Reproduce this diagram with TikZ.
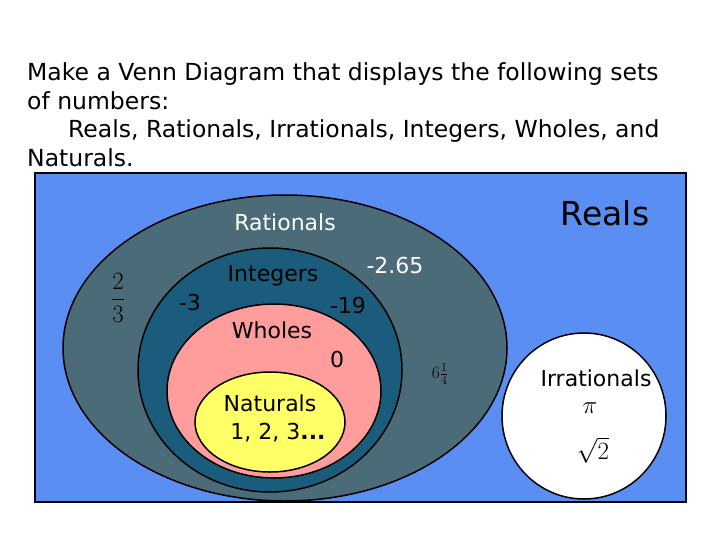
\documentclass[tikz,border=0pt]{standalone}
\usepackage{fontspec}
\setmainfont{DejaVu Sans}
\definecolor{realsblue}{HTML}{5B8EF2}
\definecolor{ratgray}{HTML}{4C6B78}
\definecolor{intblue}{HTML}{1B5C7C}
\definecolor{wholepink}{HTML}{FF9C9C}
\definecolor{natyellow}{HTML}{FFFF66}
\tikzset{
  setshape/.style={draw=black, line width=1.5pt},
  setlabel/.style={font=\fontsize{22}{26}\selectfont},
  title/.style={font=\fontsize{23.5}{28}\selectfont, anchor=west, inner sep=0pt}
}
\begin{document}
\begin{tikzpicture}[x=1pt, y=-1pt]
        \useasboundingbox[fill=white] (0,0) rectangle (720,539);
        % question
        \node[title] (line1) at (27,74) {Make a Venn Diagram that displays the following sets};
        \node[title] (line2) at (27,101) {of numbers:};
        \node[title] (line3) at (68,131) {Reals, Rationals, Irrationals, Integers, Wholes, and};
        \node[title] (line4) at (27,158) {Naturals.};
        % sets
        \draw[setshape, fill=realsblue] (35,173) rectangle (686,502);
        \draw[setshape, fill=ratgray] (285,348) ellipse (222 and 153);
        \draw[setshape, fill=intblue] (270,370) ellipse (132 and 122);
        \draw[setshape, fill=wholepink] (274,391) ellipse (107 and 87);
        \draw[setshape, fill=natyellow] (270,422) ellipse (75 and 50);
        \draw[setshape, fill=white] (584,416) ellipse (82 and 83);
        % labels
        \node[font=\fontsize{33}{38}\selectfont] (reals) at (605,213) {Reals};
        \node[setlabel, text=white] (rationals) at (285,222) {Rationals};
        \node[setlabel, text=white] (negtwo) at (395,265) {-2.65};
        \node[font=\fontsize{30}{34}\selectfont] (twothirds) at (118,298) {$\displaystyle\frac{2}{3}$};
        \node[setlabel] (integers) at (273,276) {Integers};
        \node[setlabel] (negthree) at (190,302) {-3};
        \node[setlabel] (negnineteen) at (348,305) {-19};
        \node[setlabel] (wholes) at (272,330) {Wholes};
        \node[setlabel] (zero) at (337,359) {0};
        \node[font=\fontsize{17}{20}\selectfont] (sixq) at (440,374) {$6\frac{1}{4}$};
        \node[setlabel] (naturals) at (270,403) {Naturals};
        \node[setlabel] (counting) at (278,433) {1, 2, 3\textbf{...}};
        \node[setlabel] (irrationals) at (596,378) {Irrationals};
        \node[font=\fontsize{30}{34}\selectfont] (pi) at (590,408) {$\pi$};
        \node[font=\fontsize{24}{28}\selectfont] (sqrt) at (593,450) {$\sqrt{2}$};
\end{tikzpicture}
\end{document}
